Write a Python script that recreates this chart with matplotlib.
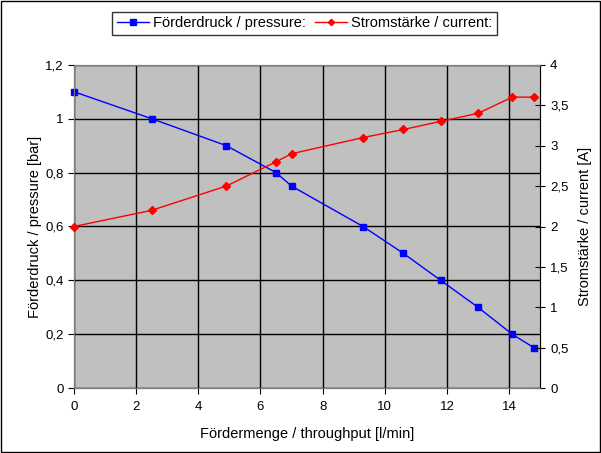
import matplotlib.pyplot as plt
from matplotlib.ticker import FuncFormatter, MultipleLocator
from matplotlib.patches import Rectangle

plt.rcParams['font.family'] = ['Liberation Sans', 'DejaVu Sans']

# Daten
durchfluss = [0, 2.5, 4.9, 6.5, 7.0, 9.3, 10.6, 11.8, 13.0, 14.1, 14.8]
druck = [1.1, 1.0, 0.9, 0.8, 0.75, 0.6, 0.5, 0.4, 0.3, 0.2, 0.15]
strom = [2.0, 2.2, 2.5, 2.8, 2.9, 3.1, 3.2, 3.3, 3.4, 3.6, 3.6]

label_druck = "Förderdruck / pressure:"
label_strom = "Stromstärke / current:"


def komma(v, pos):
    s = ("%g" % round(v, 2))
    return s.replace(".", ",")


fig = plt.figure(figsize=(6.01, 4.53), dpi=100)
ax = fig.add_axes([0.123, 0.143, 0.776, 0.714])
ax2 = ax.twinx()

ax.set_facecolor("#c0c0c0")
ax.set_xlim(0, 15)
ax.set_ylim(0, 1.2)
ax2.set_ylim(0, 4)
ax.xaxis.set_major_locator(MultipleLocator(2))
ax.yaxis.set_major_locator(MultipleLocator(0.2))
ax2.yaxis.set_major_locator(MultipleLocator(0.5))
ax.yaxis.set_major_formatter(FuncFormatter(komma))
ax2.yaxis.set_major_formatter(FuncFormatter(komma))

ax.grid(True, color="black", linewidth=1.0)
ax.set_axisbelow(True)

l1, = ax.plot(durchfluss, druck, color="#0000ff", marker="s", markersize=4.8,
              linewidth=1, label=label_druck, clip_on=False, zorder=5)
l2, = ax2.plot(durchfluss, strom, color="#ff0000", marker="D", markersize=4,
               linewidth=1, label=label_strom, clip_on=False, zorder=5)

ax.set_xlabel("Fördermenge / throughput [l/min]", fontsize=10.5, labelpad=10)
ax.set_ylabel("Förderdruck / pressure [bar]", fontsize=10.5, labelpad=2)
ax2.set_ylabel("Stromstärke / current [A]", fontsize=10.5, labelpad=7)

for a in (ax, ax2):
    a.tick_params(labelsize=9.5, length=4, color="black")
    for s in a.spines.values():
        s.set_color("#808080")
ax.tick_params(axis="x", pad=5)
ax.spines["left"].set_color("black")
ax.spines["bottom"].set_color("black")
ax2.spines["right"].set_color("black")
ax2.tick_params(axis="y", direction="inout", length=7)

leg = fig.legend(handles=[l1, l2], loc="upper center", bbox_to_anchor=(0.507, 0.99),
                 ncol=2, frameon=True, fancybox=False, fontsize=10.5,
                 handlelength=2.2, handletextpad=0.3, columnspacing=0.6,
                 borderpad=0.3, markerscale=0.8)
leg.get_frame().set_edgecolor("black")
leg.get_frame().set_linewidth(1)

fig.patches.append(Rectangle((0.002, 0.002), 0.996, 0.996, transform=fig.transFigure,
                             fill=False, edgecolor="black", linewidth=1))

fig.savefig("out.png", dpi=100)
